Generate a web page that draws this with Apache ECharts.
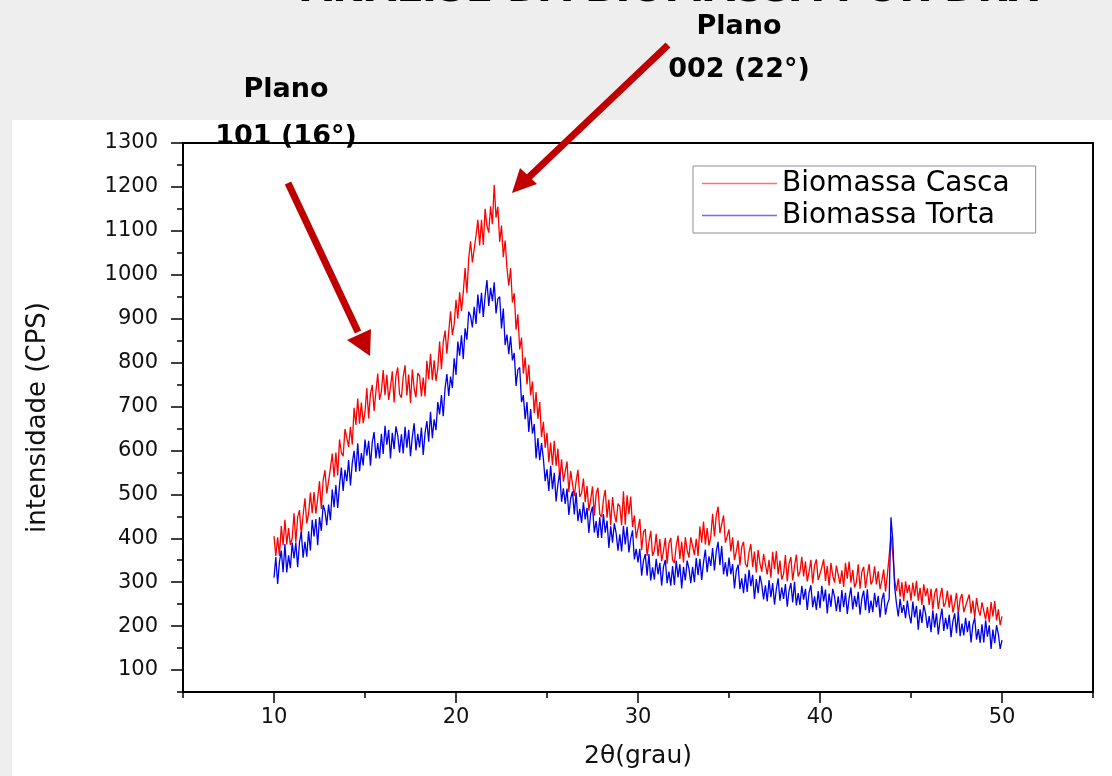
<!DOCTYPE html>
<html>
<head>
<meta charset="utf-8">
<script src="https://cdn.jsdelivr.net/npm/echarts@6/dist/echarts.min.js"></script>
<style>
  html, body { margin: 0; padding: 0; background: #eeeeee; }
  #chart { width: 1112px; height: 776px; }
</style>
</head>
<body>
<div id="chart"></div>
<script>
// scan: 2theta from 10 to 50 deg, one reading every 0.1 deg
const twoThetaStart = 10
const twoThetaStep = 0.1

// Biomassa Casca (red), one row per degree
const casca = [
  405, 360, 402, 360, 428, 385, 442, 386, 423, 385,
  400, 457, 391, 448, 464, 409, 453, 491, 434, 456,
  504, 457, 505, 456, 490, 530, 467, 532, 555, 502,
  501, 559, 593, 539, 595, 543, 625, 595, 587, 649,
  652, 608, 654, 613, 697, 658, 718, 661, 709, 662,
  687, 742, 673, 729, 749, 690, 734, 775, 715, 734,
  783, 726, 772, 715, 744, 780, 709, 770, 789, 728,
  720, 768, 794, 725, 773, 708, 784, 741, 721, 776,
  770, 723, 766, 723, 804, 762, 820, 760, 805, 758,
  787, 848, 785, 847, 873, 820, 870, 917, 863, 887,
  943, 900, 960, 917, 960, 1015, 958, 1038, 1076, 1028,
  1030, 1089, 1125, 1067, 1125, 1068, 1150, 1112, 1096, 1156,
  1115, 1205, 1130, 1155, 1075, 1112, 1040, 1078, 1015, 975,
  1015, 937, 958, 875, 910, 830, 857, 775, 812, 750,
  795, 725, 757, 685, 733, 672, 710, 630, 665, 606,
  640, 573, 618, 567, 622, 565, 604, 534, 580, 529,
  528, 575, 505, 553, 555, 496, 530, 556, 494, 503,
  536, 482, 519, 463, 488, 518, 452, 501, 515, 455,
  448, 488, 510, 447, 488, 430, 494, 456, 436, 479,
  473, 430, 507, 431, 498, 455, 495, 426, 452, 400,
  402, 444, 373, 414, 421, 360, 391, 417, 360, 372,
  410, 359, 398, 348, 371, 401, 342, 388, 401, 350,
  344, 383, 406, 353, 392, 345, 402, 373, 356, 402,
  405, 362, 399, 360, 427, 390, 438, 386, 423, 383,
  404, 456, 404, 452, 472, 412, 432, 452, 390, 394,
  420, 370, 402, 350, 370, 395, 338, 380, 392, 342,
  334, 368, 387, 335, 370, 322, 373, 343, 324, 364,
  365, 318, 351, 310, 369, 330, 371, 318, 349, 306,
  319, 362, 302, 343, 357, 304, 336, 363, 313, 324,
  358, 313, 347, 302, 324, 351, 297, 338, 352, 305,
  301, 334, 352, 303, 337, 292, 344, 315, 299, 338,
  338, 296, 327, 289, 344, 308, 347, 299, 328, 288,
  300, 341, 285, 324, 335, 287, 316, 341, 295, 304,
  336, 295, 325, 284, 304, 329, 279, 316, 320, 405,
  365, 305, 280, 308, 267, 300, 257, 302, 275, 294,
  258, 299, 268, 303, 258, 287, 248, 295, 268, 286,
  248, 285, 238, 275, 286, 239, 268, 287, 244, 254,
  281, 242, 272, 231, 250, 276, 227, 262, 273, 232,
  230, 259, 272, 229, 258, 219, 264, 237, 224, 254,
  254, 215, 244, 209, 255, 222, 257, 213, 238, 202,
  222
]

// Biomassa Torta (blue)
const torta = [
  310, 357, 296, 346, 372, 323, 387, 322, 361, 332,
  390, 354, 390, 334, 390, 414, 356, 392, 358, 416,
  372, 442, 404, 444, 384, 448, 417, 476, 462, 430,
  477, 441, 511, 471, 521, 469, 521, 561, 508, 556,
  530, 578, 520, 571, 599, 551, 616, 553, 594, 566,
  625, 588, 622, 565, 619, 642, 582, 617, 582, 638,
  592, 656, 613, 647, 582, 640, 603, 655, 634, 595,
  637, 593, 654, 606, 647, 587, 631, 662, 600, 638,
  607, 652, 590, 640, 667, 620, 688, 628, 671, 646,
  710, 682, 726, 678, 742, 774, 724, 768, 742, 810,
  772, 848, 816, 862, 808, 878, 852, 916, 906, 880,
  927, 888, 955, 912, 959, 904, 952, 988, 929, 970,
  940, 983, 912, 945, 950, 878, 923, 840, 864, 819,
  860, 805, 822, 747, 784, 789, 710, 726, 671, 710,
  642, 694, 638, 660, 582, 628, 578, 617, 582, 530,
  557, 508, 565, 512, 549, 484, 523, 550, 483, 514,
  478, 513, 453, 490, 507, 454, 504, 439, 467, 435,
  482, 443, 469, 412, 457, 472, 413, 439, 401, 448,
  401, 455, 413, 440, 378, 427, 390, 434, 411, 372,
  409, 370, 428, 386, 426, 368, 399, 418, 352, 376,
  345, 376, 315, 349, 364, 315, 364, 304, 334, 306,
  353, 318, 344, 292, 335, 351, 298, 324, 292, 337,
  294, 349, 311, 341, 286, 335, 304, 349, 331, 298,
  335, 300, 355, 316, 353, 305, 345, 374, 323, 359,
  337, 378, 327, 370, 392, 339, 382, 318, 345, 313,
  356, 318, 341, 286, 326, 340, 284, 309, 275, 319,
  278, 328, 291, 317, 262, 307, 275, 315, 295, 261,
  293, 256, 305, 266, 298, 249, 284, 309, 258, 288,
  262, 296, 244, 281, 298, 254, 301, 247, 275, 248,
  292, 260, 285, 237, 277, 293, 243, 268, 237, 280,
  241, 292, 256, 283, 229, 274, 244, 285, 267, 234,
  268, 232, 282, 243, 276, 228, 263, 288, 238, 269,
  244, 278, 226, 263, 281, 236, 284, 230, 258, 232,
  276, 243, 269, 220, 260, 276, 226, 250, 262, 448,
  395, 290, 252, 222, 262, 230, 248, 218, 258, 226,
  206, 256, 220, 246, 192, 238, 207, 248, 229, 196,
  223, 186, 236, 197, 229, 181, 215, 240, 189, 219,
  193, 226, 175, 211, 229, 184, 232, 177, 206, 179,
  219, 186, 212, 163, 203, 219, 169, 193, 162, 204,
  163, 213, 176, 202, 148, 192, 161, 202, 182, 148,
  168
]

const seriesNames = ['Biomassa Casca', 'Biomassa Torta']
const xTickLabels = [10, 20, 30, 40, 50]
const yTickLabels = [100, 200, 300, 400, 500, 600, 700, 800, 900, 1000, 1100, 1200, 1300]

const slideTitle = 'ANÁLISE DA BIOMASSA POR DRX'
const planeLabels = [
  ['Plano', '101 (16°)'],
  ['Plano', '002 (22°)'],
]

const toPairs = (vals) =>
  vals.map((v, i) => [+(twoThetaStart + i * twoThetaStep).toFixed(1), v])

const tickFont = { fontFamily: 'DejaVu Sans', fontSize: 21, color: '#111', formatter: (v) => String(v) }
const tickLine = { color: '#000', width: 1.5 }
const arrowRed = '#c00000'
const boldFont = 'bold 27px "DejaVu Sans"'

const chart = echarts.init(document.getElementById('chart'))
chart.setOption({
  animation: false,
  backgroundColor: '#eeeeee',
  grid: {
    left: 183, right: 19, top: 143, bottom: 84,
    show: true, borderColor: '#000', borderWidth: 2,
  },
  legend: {
    orient: 'vertical',
    left: 693, top: 166,
    padding: [3, 26, 3, 9],
    icon: 'rect',
    itemWidth: 75, itemHeight: 1.5, itemGap: 3,
    backgroundColor: '#fff',
    borderColor: '#8c8c9c', borderWidth: 1,
    textStyle: { fontFamily: 'DejaVu Sans', fontSize: 28, lineHeight: 29, color: '#000' },
    data: [
      { name: seriesNames[0], itemStyle: { color: '#ff7070' } },
      { name: seriesNames[1], itemStyle: { color: '#6a6aff' } },
    ],
  },
  xAxis: [
    {
      type: 'value', min: 5, max: 55, interval: 5,
      name: '2θ(grau)', nameLocation: 'middle', nameGap: 52,
      nameTextStyle: { fontFamily: 'DejaVu Sans', fontSize: 25, color: '#111' },
      axisLine: { lineStyle: { color: '#000', width: 2 } },
      axisTick: { length: 6, lineStyle: tickLine },
      axisLabel: { ...tickFont, margin: 15, customValues: xTickLabels },
      splitLine: { show: false },
    },
    {
      type: 'value', min: 5, max: 55, position: 'bottom',
      axisLine: { show: false },
      axisTick: { length: 11, customValues: xTickLabels, lineStyle: tickLine },
      axisLabel: { show: false },
      splitLine: { show: false },
    },
  ],
  yAxis: [
    {
      type: 'value', min: 50, max: 1300, interval: 50,
      name: 'intensidade (CPS)', nameLocation: 'middle', nameGap: 132,
      nameTextStyle: { fontFamily: 'DejaVu Sans', fontSize: 26, color: '#111' },
      axisLine: { show: true, lineStyle: { color: '#000', width: 2 } },
      axisTick: { length: 6, lineStyle: tickLine },
      axisLabel: { ...tickFont, margin: 25, customValues: yTickLabels },
      splitLine: { show: false },
    },
    {
      type: 'value', min: 50, max: 1300, position: 'left',
      axisLine: { show: false },
      axisTick: { show: true, length: 12, customValues: yTickLabels, lineStyle: tickLine },
      axisLabel: { show: false },
      splitLine: { show: false },
    },
  ],
  series: [
    {
      name: seriesNames[0], type: 'line', data: toPairs(casca),
      symbol: 'none', sampling: null,
      color: '#ff0000', lineStyle: { color: '#ff0000', width: 1.3 },
    },
    {
      name: seriesNames[1], type: 'line', data: toPairs(torta),
      symbol: 'none', sampling: null,
      color: '#0000ee', lineStyle: { color: '#0000ee', width: 1.3 },
    },
  ],
  graphic: [
    // white panel of the pasted chart image
    { type: 'rect', z: -10, silent: true, shape: { x: 12, y: 120, width: 1100, height: 656 }, style: { fill: '#fff' } },
    // slide title, mostly above the page
    { type: 'text', x: 670, y: 11, z: 10, style: { text: slideTitle, font: 'bold 40px "DejaVu Sans"', fill: '#000', align: 'center', verticalAlign: 'bottom' } },
    { type: 'text', x: 286, y: 90, z: 10, style: { text: planeLabels[0][0], font: boldFont, fill: '#000', align: 'center', verticalAlign: 'middle' } },
    { type: 'text', x: 286, y: 137, z: 10, style: { text: planeLabels[0][1], font: boldFont, fill: '#000', align: 'center', verticalAlign: 'middle' } },
    { type: 'text', x: 739, y: 27, z: 10, style: { text: planeLabels[1][0], font: boldFont, fill: '#000', align: 'center', verticalAlign: 'middle' } },
    { type: 'text', x: 739, y: 70, z: 10, style: { text: planeLabels[1][1], font: boldFont, fill: '#000', align: 'center', verticalAlign: 'middle' } },
    // arrow to plane 101
    { type: 'line', z: 10, shape: { x1: 288, y1: 183, x2: 358, y2: 332 }, style: { stroke: arrowRed, lineWidth: 7 } },
    { type: 'polygon', z: 10, shape: { points: [[370, 356], [347, 340], [371, 329]] }, style: { fill: arrowRed } },
    // arrow to plane 002
    { type: 'line', z: 10, shape: { x1: 668, y1: 45, x2: 528, y2: 178 }, style: { stroke: arrowRed, lineWidth: 7 } },
    { type: 'polygon', z: 10, shape: { points: [[512, 193], [520, 168], [537, 184]] }, style: { fill: arrowRed } },
  ],
})
</script>
</body>
</html>
